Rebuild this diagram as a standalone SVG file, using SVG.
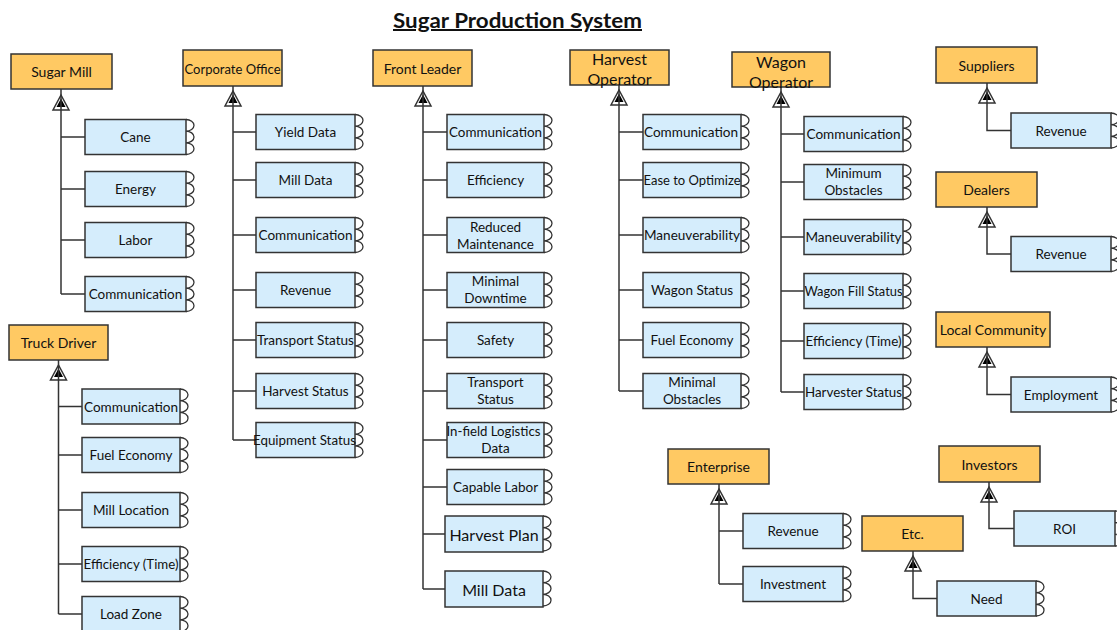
<svg xmlns="http://www.w3.org/2000/svg" xmlns:xlink="http://www.w3.org/1999/xlink" width="1117" height="630" viewBox="0 0 1117 630">
  <style>
    .hd { fill: #FFC963; stroke: #333; stroke-width: 1.5; }
    .ch { fill: #D5EDFC; stroke: #333; stroke-width: 1.5; }
    .port { fill: none; stroke: #333; stroke-width: 1.3; }
    .conn { fill: none; stroke: #333; stroke-width: 1.5; }
    text { font-family: Lato, "Liberation Sans", sans-serif; fill: #111; text-anchor: middle; dominant-baseline: central; }
    .t { font-size: 13.5px; }
    .tb { font-size: 16px; }
    .h { font-size: 14px; }
    .h2 { font-size: 16px; }
    .title { font-size: 20px; font-weight: bold; text-decoration: underline; dominant-baseline: auto; }
  </style>
  <defs>
    <!-- three rounded ports on the right edge of an attribute box -->
    <path id="port" class="port" d="M0,0 a8,5.83 0 0 1 0,11.67 a8,5.83 0 0 1 0,11.67 a8,5.83 0 0 1 0,11.67"/>
    <!-- generalisation head: open triangle with a filled inner triangle, tip at origin -->
    <g id="gen">
      <path d="M0,0 L8,15 L-8,15 Z" fill="#fff" stroke="#333" stroke-width="1.5"/>
      <path d="M0,3.5 L4.5,12 L-4.5,12 Z" fill="#000"/>
    </g>
  </defs>

  <rect width="1117" height="630" fill="#fff"/>

  <text class="title" x="517.5" y="28" textLength="249" lengthAdjust="spacingAndGlyphs">Sugar Production System</text>

  <!-- connectors -->
  <g id="connectors">
    <use href="#gen" x="61" y="95"/>
    <use href="#gen" x="58.5" y="365"/>
    <use href="#gen" x="233" y="91"/>
    <use href="#gen" x="423" y="91"/>
    <use href="#gen" x="619" y="90"/>
    <use href="#gen" x="781" y="92"/>
    <use href="#gen" x="987" y="88"/>
    <use href="#gen" x="987" y="212"/>
    <use href="#gen" x="987" y="352"/>
    <use href="#gen" x="719" y="489"/>
    <use href="#gen" x="989" y="487"/>
    <use href="#gen" x="913" y="556"/>

    <!-- Sugar Mill -->
    <path class="conn" d="M61,89 V294 M61,137 H85 M61,189 H85 M61,240 H85 M61,294 H85"/>
    <!-- Truck Driver -->
    <path class="conn" d="M58.5,360 V614 M58.5,406.5 H82 M58.5,455 H82 M58.5,510 H82 M58.5,564 H82 M58.5,614 H82"/>
    <!-- Corporate Office -->
    <path class="conn" d="M233,86 V440 M233,132 H256 M233,180 H256 M233,235 H256 M233,290 H256 M233,340 H256 M233,391 H256 M233,440 H256"/>
    <!-- Front Leader -->
    <path class="conn" d="M423,86 V589 M423,132 H447 M423,180 H447 M423,235 H447 M423,290 H447 M423,340 H447 M423,391 H447 M423,440 H447 M423,487 H447 M423,534 H445 M423,589 H445"/>
    <!-- Harvest Operator -->
    <path class="conn" d="M619,85 V391 M619,132 H643 M619,180 H643 M619,235 H643 M619,290 H643 M619,340 H643 M619,391 H643"/>
    <!-- Wagon Operator -->
    <path class="conn" d="M781,87 V392 M781,134 H804 M781,182 H804 M781,237 H804 M781,291 H804 M781,341 H804 M781,392 H804"/>
    <!-- Suppliers, Dealers, Local Community -->
    <path class="conn" d="M987,83 V130.5 H1011"/>
    <path class="conn" d="M987,207 V254 H1011"/>
    <path class="conn" d="M987,347 V394.5 H1011"/>
    <!-- Enterprise -->
    <path class="conn" d="M719,484 V584 M719,531 H743 M719,584 H743"/>
    <!-- Investors -->
    <path class="conn" d="M989,482 V528.5 H1014"/>
    <!-- Etc. -->
    <path class="conn" d="M913,551 V598.5 H937"/>
  </g>

  <!-- Sugar Mill -->
  <g id="sugar-mill">
    <rect class="hd" x="11" y="54" width="101" height="35"/>
    <text class="h" x="61.5" y="71.5">Sugar Mill</text>
  </g>
  <g id="sm-cane"><rect class="ch" x="85" y="119.5" width="101" height="35"/><use href="#port" x="186" y="119.5"/><text class="t" x="135.5" y="137">Cane</text></g>
  <g id="sm-energy"><rect class="ch" x="85" y="171.5" width="101" height="35"/><use href="#port" x="186" y="171.5"/><text class="t" x="135.5" y="189">Energy</text></g>
  <g id="sm-labor"><rect class="ch" x="85" y="222.5" width="101" height="35"/><use href="#port" x="186" y="222.5"/><text class="t" x="135.5" y="240">Labor</text></g>
  <g id="sm-communication"><rect class="ch" x="85" y="276.5" width="101" height="35"/><use href="#port" x="186" y="276.5"/><text class="t" x="135.5" y="294">Communication</text></g>

  <!-- Truck Driver -->
  <g id="truck-driver">
    <rect class="hd" x="9" y="325" width="99" height="35"/>
    <text class="h" x="58.5" y="342.5">Truck Driver</text>
  </g>
  <g id="td-communication"><rect class="ch" x="82" y="389" width="98" height="35"/><use href="#port" x="180" y="389"/><text class="t" x="131" y="406.5" textLength="94" lengthAdjust="spacingAndGlyphs">Communication</text></g>
  <g id="td-fuel"><rect class="ch" x="82" y="437.5" width="98" height="35"/><use href="#port" x="180" y="437.5"/><text class="t" x="131" y="455">Fuel Economy</text></g>
  <g id="td-mill-location"><rect class="ch" x="82" y="492.5" width="98" height="35"/><use href="#port" x="180" y="492.5"/><text class="t" x="131" y="510">Mill Location</text></g>
  <g id="td-efficiency"><rect class="ch" x="82" y="546.5" width="98" height="35"/><use href="#port" x="180" y="546.5"/><text class="t" x="131" y="564" textLength="95" lengthAdjust="spacingAndGlyphs">Efficiency (Time)</text></g>
  <g id="td-load-zone"><rect class="ch" x="82" y="596.5" width="98" height="35"/><use href="#port" x="180" y="596.5"/><text class="t" x="131" y="614">Load Zone</text></g>

  <!-- Corporate Office -->
  <g id="corporate-office">
    <rect class="hd" x="183" y="50" width="99" height="36"/>
    <text class="h" x="232.5" y="68" textLength="96" lengthAdjust="spacingAndGlyphs">Corporate Office</text>
  </g>
  <g id="co-yield"><rect class="ch" x="256" y="114.5" width="99" height="35"/><use href="#port" x="355" y="114.5"/><text class="t" x="305.5" y="132">Yield Data</text></g>
  <g id="co-mill-data"><rect class="ch" x="256" y="162.5" width="99" height="35"/><use href="#port" x="355" y="162.5"/><text class="t" x="305.5" y="180">Mill Data</text></g>
  <g id="co-communication"><rect class="ch" x="256" y="217.5" width="99" height="35"/><use href="#port" x="355" y="217.5"/><text class="t" x="305.5" y="235" textLength="94" lengthAdjust="spacingAndGlyphs">Communication</text></g>
  <g id="co-revenue"><rect class="ch" x="256" y="272.5" width="99" height="35"/><use href="#port" x="355" y="272.5"/><text class="t" x="305.5" y="290">Revenue</text></g>
  <g id="co-transport"><rect class="ch" x="256" y="322.5" width="99" height="35"/><use href="#port" x="355" y="322.5"/><text class="t" x="305.5" y="340" textLength="97" lengthAdjust="spacingAndGlyphs">Transport Status</text></g>
  <g id="co-harvest"><rect class="ch" x="256" y="373.5" width="99" height="35"/><use href="#port" x="355" y="373.5"/><text class="t" x="305.5" y="391">Harvest Status</text></g>
  <g id="co-equipment"><rect class="ch" x="256" y="422.5" width="99" height="35"/><use href="#port" x="355" y="422.5"/><text class="t" x="304.5" y="440" textLength="103" lengthAdjust="spacingAndGlyphs">Equipment Status</text></g>

  <!-- Front Leader -->
  <g id="front-leader">
    <rect class="hd" x="373" y="50" width="99" height="36"/>
    <text class="h" x="422.5" y="68">Front Leader</text>
  </g>
  <g id="fl-communication"><rect class="ch" x="447" y="114.5" width="97" height="35"/><use href="#port" x="544" y="114.5"/><text class="t" x="495.5" y="132" textLength="93" lengthAdjust="spacingAndGlyphs">Communication</text></g>
  <g id="fl-efficiency"><rect class="ch" x="447" y="162.5" width="97" height="35"/><use href="#port" x="544" y="162.5"/><text class="t" x="495.5" y="180">Efficiency</text></g>
  <g id="fl-maintenance"><rect class="ch" x="447" y="217.5" width="97" height="35"/><use href="#port" x="544" y="217.5"/><text class="t" x="495.5" y="227">Reduced</text><text class="t" x="495.5" y="244">Maintenance</text></g>
  <g id="fl-downtime"><rect class="ch" x="447" y="272.5" width="97" height="35"/><use href="#port" x="544" y="272.5"/><text class="t" x="495.5" y="281">Minimal</text><text class="t" x="495.5" y="298">Downtime</text></g>
  <g id="fl-safety"><rect class="ch" x="447" y="322.5" width="97" height="35"/><use href="#port" x="544" y="322.5"/><text class="t" x="495.5" y="340">Safety</text></g>
  <g id="fl-transport"><rect class="ch" x="447" y="373.5" width="97" height="35"/><use href="#port" x="544" y="373.5"/><text class="t" x="495.5" y="382">Transport</text><text class="t" x="495.5" y="399">Status</text></g>
  <g id="fl-logistics"><rect class="ch" x="447" y="422.5" width="97" height="35"/><use href="#port" x="544" y="422.5"/><text class="t" x="493.5" y="431" textLength="94" lengthAdjust="spacingAndGlyphs">In-field Logistics</text><text class="t" x="495.5" y="448">Data</text></g>
  <g id="fl-labor"><rect class="ch" x="447" y="469.5" width="97" height="35"/><use href="#port" x="544" y="469.5"/><text class="t" x="495.5" y="487">Capable Labor</text></g>
  <g id="fl-harvest-plan"><rect class="ch" x="445" y="516" width="98" height="36"/><use href="#port" x="543" y="516"/><text class="tb" x="494" y="534">Harvest Plan</text></g>
  <g id="fl-mill-data"><rect class="ch" x="445" y="571" width="98" height="36"/><use href="#port" x="543" y="571"/><text class="tb" x="494" y="589">Mill Data</text></g>

  <!-- Harvest Operator -->
  <g id="harvest-operator">
    <rect class="hd" x="570" y="50" width="99" height="35"/>
    <text class="h2" x="619.5" y="58">Harvest</text>
    <text class="h2" x="619.5" y="78">Operator</text>
  </g>
  <g id="ho-communication"><rect class="ch" x="643" y="114.5" width="98" height="35"/><use href="#port" x="741" y="114.5"/><text class="t" x="691" y="132" textLength="94" lengthAdjust="spacingAndGlyphs">Communication</text></g>
  <g id="ho-optimize"><rect class="ch" x="643" y="162.5" width="98" height="35"/><use href="#port" x="741" y="162.5"/><text class="t" x="692" y="180" textLength="97" lengthAdjust="spacingAndGlyphs">Ease to Optimize</text></g>
  <g id="ho-maneuverability"><rect class="ch" x="643" y="217.5" width="98" height="35"/><use href="#port" x="741" y="217.5"/><text class="t" x="692" y="235" textLength="96" lengthAdjust="spacingAndGlyphs">Maneuverability</text></g>
  <g id="ho-wagon-status"><rect class="ch" x="643" y="272.5" width="98" height="35"/><use href="#port" x="741" y="272.5"/><text class="t" x="692" y="290">Wagon Status</text></g>
  <g id="ho-fuel"><rect class="ch" x="643" y="322.5" width="98" height="35"/><use href="#port" x="741" y="322.5"/><text class="t" x="692" y="340">Fuel Economy</text></g>
  <g id="ho-obstacles"><rect class="ch" x="643" y="373.5" width="98" height="35"/><use href="#port" x="741" y="373.5"/><text class="t" x="692" y="382">Minimal</text><text class="t" x="692" y="399">Obstacles</text></g>

  <!-- Wagon Operator -->
  <g id="wagon-operator">
    <rect class="hd" x="732" y="52" width="98" height="35"/>
    <text class="h2" x="781" y="61">Wagon</text>
    <text class="h2" x="781" y="81">Operator</text>
  </g>
  <g id="wo-communication"><rect class="ch" x="804" y="116.5" width="99" height="35"/><use href="#port" x="903" y="116.5"/><text class="t" x="853.5" y="134" textLength="94" lengthAdjust="spacingAndGlyphs">Communication</text></g>
  <g id="wo-obstacles"><rect class="ch" x="804" y="164.5" width="99" height="35"/><use href="#port" x="903" y="164.5"/><text class="t" x="853.5" y="173">Minimum</text><text class="t" x="853.5" y="190">Obstacles</text></g>
  <g id="wo-maneuverability"><rect class="ch" x="804" y="219.5" width="99" height="35"/><use href="#port" x="903" y="219.5"/><text class="t" x="853.5" y="237" textLength="96" lengthAdjust="spacingAndGlyphs">Maneuverability</text></g>
  <g id="wo-fill-status"><rect class="ch" x="804" y="273.5" width="99" height="35"/><use href="#port" x="903" y="273.5"/><text class="t" x="853.5" y="291" textLength="98" lengthAdjust="spacingAndGlyphs">Wagon Fill Status</text></g>
  <g id="wo-efficiency"><rect class="ch" x="804" y="323.5" width="99" height="35"/><use href="#port" x="903" y="323.5"/><text class="t" x="853.5" y="341" textLength="96" lengthAdjust="spacingAndGlyphs">Efficiency (Time)</text></g>
  <g id="wo-harvester"><rect class="ch" x="804" y="374.5" width="99" height="35"/><use href="#port" x="903" y="374.5"/><text class="t" x="853.5" y="392" textLength="97" lengthAdjust="spacingAndGlyphs">Harvester Status</text></g>

  <!-- Suppliers -->
  <g id="suppliers">
    <rect class="hd" x="936" y="47" width="101" height="36"/>
    <text class="h" x="986.5" y="65">Suppliers</text>
  </g>
  <g id="su-revenue"><rect class="ch" x="1011" y="113" width="100" height="35"/><use href="#port" x="1111" y="113"/><text class="t" x="1061" y="130.5">Revenue</text></g>

  <!-- Dealers -->
  <g id="dealers">
    <rect class="hd" x="936" y="172" width="101" height="35"/>
    <text class="h" x="986.5" y="189.5">Dealers</text>
  </g>
  <g id="de-revenue"><rect class="ch" x="1011" y="236.5" width="100" height="35"/><use href="#port" x="1111" y="236.5"/><text class="t" x="1061" y="254">Revenue</text></g>

  <!-- Local Community -->
  <g id="local-community">
    <rect class="hd" x="936" y="312" width="114" height="35"/>
    <text class="h" x="993" y="329.5">Local Community</text>
  </g>
  <g id="lc-employment"><rect class="ch" x="1011" y="377" width="100" height="35"/><use href="#port" x="1111" y="377"/><text class="t" x="1061" y="394.5">Employment</text></g>

  <!-- Enterprise -->
  <g id="enterprise">
    <rect class="hd" x="668" y="449" width="101" height="35"/>
    <text class="h" x="718.5" y="466.5">Enterprise</text>
  </g>
  <g id="en-revenue"><rect class="ch" x="743" y="513.5" width="100" height="35"/><use href="#port" x="843" y="513.5"/><text class="t" x="793" y="531">Revenue</text></g>
  <g id="en-investment"><rect class="ch" x="743" y="566.5" width="100" height="35"/><use href="#port" x="843" y="566.5"/><text class="t" x="793" y="584">Investment</text></g>

  <!-- Investors -->
  <g id="investors">
    <rect class="hd" x="939" y="446" width="101" height="36"/>
    <text class="h" x="989.5" y="464">Investors</text>
  </g>
  <g id="in-roi"><rect class="ch" x="1014" y="511" width="101" height="35"/><use href="#port" x="1115" y="511"/><text class="t" x="1064.5" y="528.5">ROI</text></g>

  <!-- Etc. -->
  <g id="etc">
    <rect class="hd" x="862" y="516" width="101" height="35"/>
    <text class="h" x="912.5" y="533.5">Etc.</text>
  </g>
  <g id="etc-need"><rect class="ch" x="937" y="581" width="99" height="35"/><use href="#port" x="1036" y="581"/><text class="t" x="986.5" y="598.5">Need</text></g>
</svg>
